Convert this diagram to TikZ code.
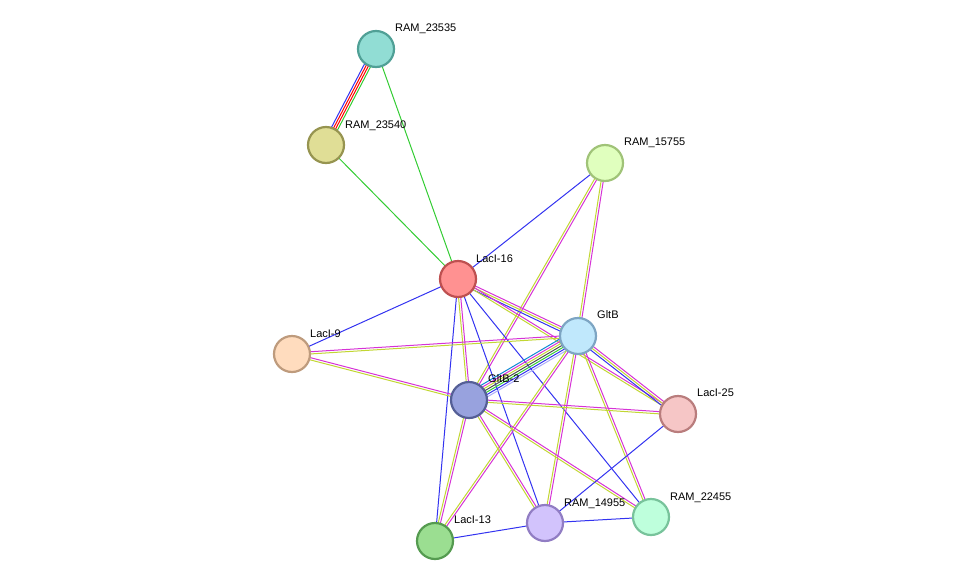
\documentclass[tikz,border=0pt]{standalone}
\usepackage{fontspec}
\setmainfont{Liberation Sans}
\usetikzlibrary{calc}
\definecolor{emag}{HTML}{D633D6}
\definecolor{eyel}{HTML}{C2D633}
\definecolor{eblu}{HTML}{3333F0}
\definecolor{egrn}{HTML}{33CC33}
\newcommand{\pe}[4]{\draw[#4,line width=1pt] ($(#1)!#3!90:(#2)$) -- ($(#2)!#3!-90:(#1)$);}
\newcommand{\my}[2]{\pe{#1}{#2}{1.1pt}{emag}\pe{#1}{#2}{-1.1pt}{eyel}}
\begin{document}
\begin{tikzpicture}[x=1pt,y=-1pt,
  nd/.style={circle,minimum size=36pt,inner sep=0pt,line width=2.2pt},
  lb/.style={anchor=base west,font=\fontsize{11}{12}\selectfont,inner sep=0pt}]
\useasboundingbox (0,0) rectangle (975,587);
\coordinate (a) at (376,49);
\coordinate (b) at (326,145);
\coordinate (c) at (605,163);
\coordinate (d) at (458,279);
\coordinate (e) at (578,336);
\coordinate (f) at (292,354);
\coordinate (g) at (469,400);
\coordinate (h) at (678,414);
\coordinate (i) at (651,517);
\coordinate (j) at (545,523);
\coordinate (k) at (435,541);
% edges
\pe{a}{b}{-3.3pt}{eblu}\pe{a}{b}{-1.1pt}{red}\pe{a}{b}{1.1pt}{red}\pe{a}{b}{3.3pt}{egrn}
\pe{a}{d}{0pt}{egrn}
\pe{b}{d}{0pt}{egrn}
\pe{c}{d}{0pt}{eblu}
\my{c}{e}\my{c}{g}
\pe{d}{f}{0pt}{eblu}
\my{d}{e}\pe{d}{e}{-3.3pt}{eblu}
\my{d}{g}\my{d}{h}
\pe{d}{k}{0pt}{eblu}\pe{d}{j}{0pt}{eblu}\pe{d}{i}{0pt}{eblu}
\my{f}{e}\my{f}{g}
\pe{e}{g}{-6.6pt}{cyan!70!blue}\pe{e}{g}{-4.4pt}{emag}\pe{e}{g}{-2.2pt}{eyel}\pe{e}{g}{0pt}{black!70}
\pe{e}{g}{2.2pt}{egrn}\pe{e}{g}{4.4pt}{eblu}\pe{e}{g}{6.6pt}{eblu!40}
\my{e}{h}\pe{e}{h}{-3.3pt}{eblu}
\my{e}{k}\my{e}{j}\my{e}{i}
\my{g}{h}\my{g}{j}\my{g}{i}\my{g}{k}
\pe{h}{j}{0pt}{eblu}\pe{k}{j}{0pt}{eblu}\pe{j}{i}{0pt}{eblu}
% nodes
\node[nd,fill={rgb,255:red,145;green,221;blue,212},draw={rgb,255:red,80;green,160;blue,150}] (na) at (a) {};
\node[nd,fill={rgb,255:red,224;green,222;blue,150},draw={rgb,255:red,150;green,148;blue,80}] (nb) at (b) {};
\node[nd,fill={rgb,255:red,224;green,255;blue,190},draw={rgb,255:red,160;green,195;blue,120}] (nc) at (c) {};
\node[nd,fill={rgb,255:red,255;green,145;blue,145},draw={rgb,255:red,190;green,80;blue,80}] (nd) at (d) {};
\node[nd,fill={rgb,255:red,192;green,232;blue,252},draw={rgb,255:red,125;green,165;blue,195}] (ne) at (e) {};
\node[nd,fill={rgb,255:red,255;green,220;blue,190},draw={rgb,255:red,190;green,155;blue,125}] (nf) at (f) {};
\node[nd,fill={rgb,255:red,152;green,162;blue,222},draw={rgb,255:red,85;green,95;blue,150}] (ng) at (g) {};
\node[nd,fill={rgb,255:red,246;green,198;blue,198},draw={rgb,255:red,185;green,125;blue,125}] (nh) at (h) {};
\node[nd,fill={rgb,255:red,190;green,255;blue,220},draw={rgb,255:red,120;green,195;blue,155}] (ni) at (i) {};
\node[nd,fill={rgb,255:red,210;green,195;blue,252},draw={rgb,255:red,145;green,125;blue,195}] (nj) at (j) {};
\node[nd,fill={rgb,255:red,155;green,222;blue,145},draw={rgb,255:red,85;green,155;blue,80}] (nk) at (k) {};
% labels
\node[lb] (la) at ($(a)+(19,-18)$) {RAM\_23535};
\node[lb] (lb2) at ($(b)+(19,-17)$) {RAM\_23540};
\node[lb] (lc) at ($(c)+(19,-18)$) {RAM\_15755};
\node[lb] (ld) at ($(d)+(18,-17)$) {LacI-16};
\node[lb] (le) at ($(e)+(19,-18)$) {GltB};
\node[lb] (lf) at ($(f)+(18,-17)$) {LacI-9};
\node[lb] (lg) at ($(g)+(19,-18)$) {GltB-2};
\node[lb] (lh) at ($(h)+(19,-18)$) {LacI-25};
\node[lb] (li) at ($(i)+(19,-17)$) {RAM\_22455};
\node[lb] (lj) at ($(j)+(19,-17)$) {RAM\_14955};
\node[lb] (lk) at ($(k)+(19,-18)$) {LacI-13};
\end{tikzpicture}
\end{document}
